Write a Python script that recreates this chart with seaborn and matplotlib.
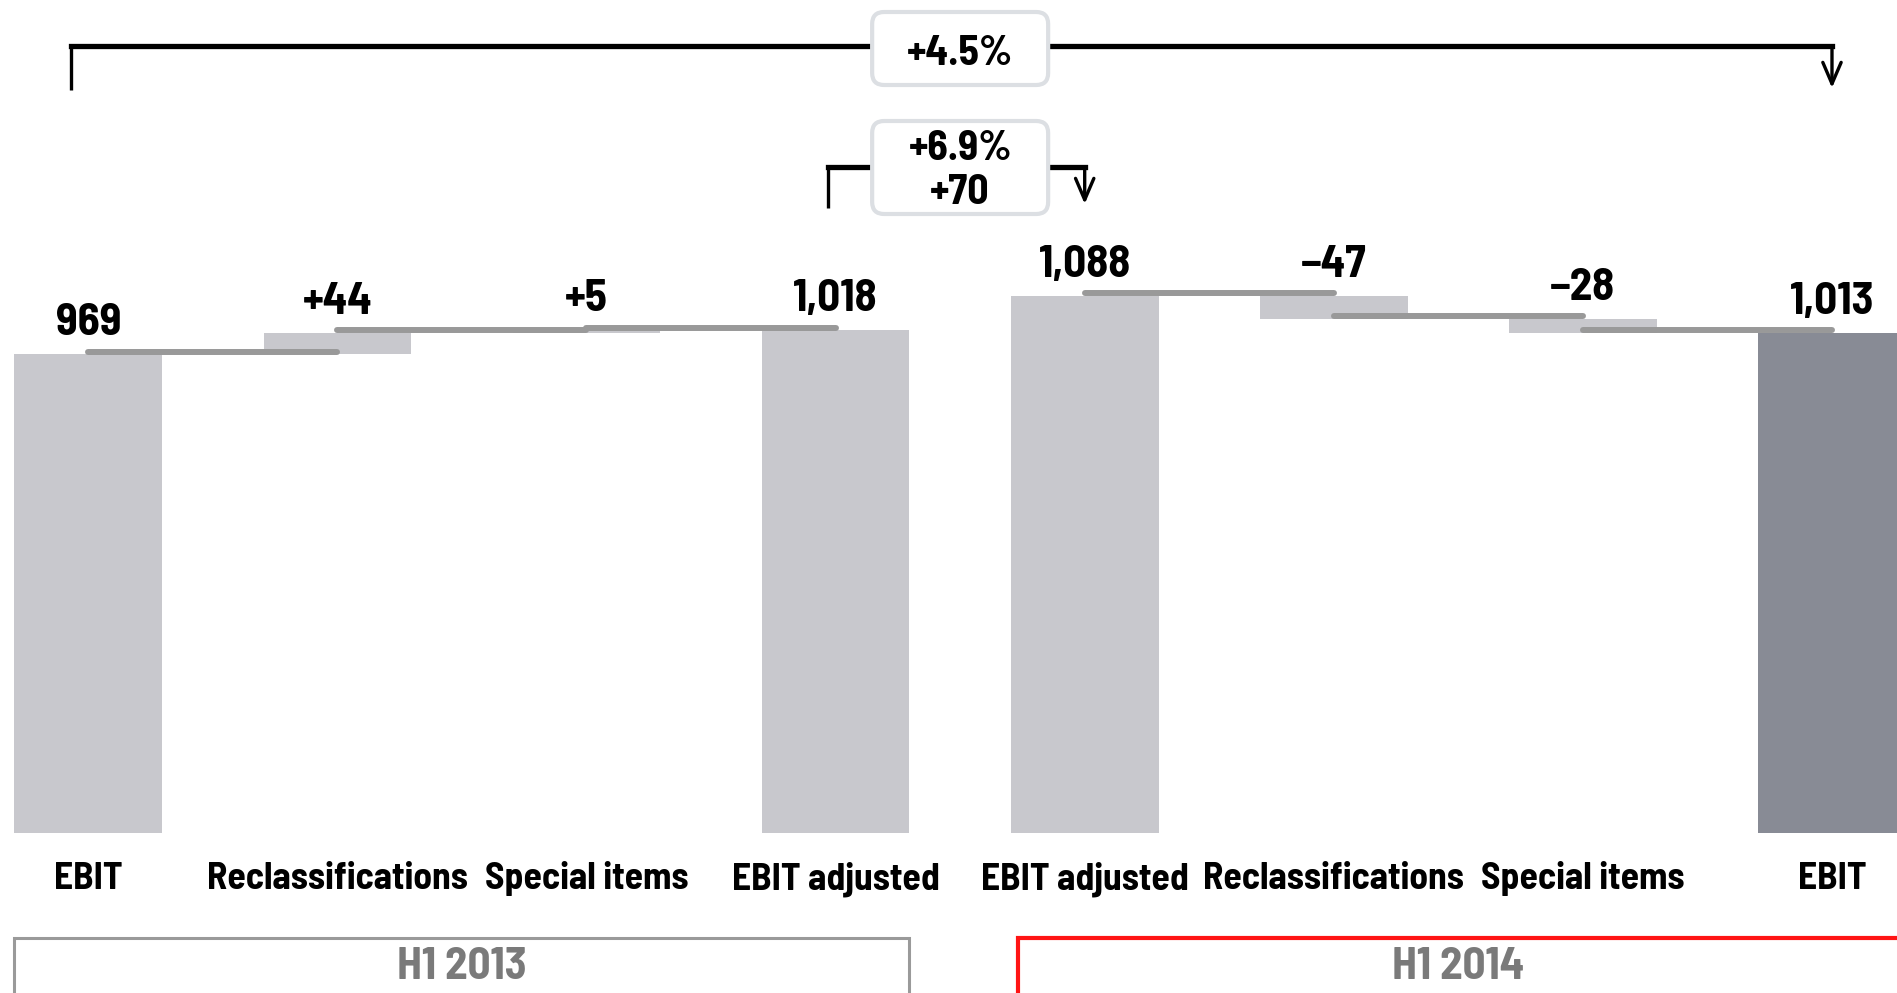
import os
import numpy as np
import pandas as pd
import matplotlib
matplotlib.use("Agg")
import matplotlib.pyplot as plt
import matplotlib.transforms as mtransforms
from matplotlib import font_manager as fm
from matplotlib.patches import FancyBboxPatch, Rectangle
import seaborn as sns

# ---- data -------------------------------------------------------------
categories = ["EBIT", "Reclassifications", "Special items", "EBIT adjusted",
              "EBIT adjusted", "Reclassifications", "Special items", "EBIT"]
values = [969, 44, 5, 1018, 1088, -47, -28, 1013]
kinds = ["total", "delta", "delta", "total", "total", "delta", "delta", "total"]
value_labels = ["969", "+44", "+5", "1,018", "1,088", "\u221247", "\u221228", "1,013"]
groups = [0, 0, 0, 0, 1, 1, 1, 1]
periods = ["H1 2013", "H1 2014"]
overall_change = "+4.5%"
adjusted_change = ["+6.9%", "+70"]

# ---- style ------------------------------------------------------------
sns.set_theme(style="white")
plt.rcParams["font.family"] = ["DejaVu Sans"]

LIGHT = "#c8c8cd"
DARK = "#888b95"
CONNECT = "#999999"

fig = plt.figure(figsize=(18.97, 9.93), dpi=100)
ax = fig.add_axes([0, 0, 1, 1])
renderer = fig.canvas.get_renderer()


def measure(prop, s):
    w, h, _ = renderer.get_text_width_height_descent(s, prop, ismath=False)
    return w, h


def pick_font():
    """Choose the bold sans face whose proportions suit tall, narrow labels."""
    families = {"noto sans", "dejavu sans", "liberation sans", "roboto",
                "open sans", "lato", "inter"}
    best, best_err = None, None
    seen = set()
    for f in fm.fontManager.ttflist:
        name = f.name.lower()
        fname = os.path.basename(f.fname).lower()
        ok_family = name in families or (
            ("condensed" in name or "narrow" in name)
            and not any(k in name for k in ("mono", "serif", "cjk", "math")))
        if not ok_family:
            continue
        wt = f.weight if isinstance(f.weight, int) else 700 if "bold" in str(f.weight) else 400
        if wt < 600 or f.style != "normal" or "italic" in fname or "oblique" in fname:
            continue
        if f.fname in seen:
            continue
        seen.add(f.fname)
        try:
            p = fm.FontProperties(fname=f.fname, size=30)
            _, cap = measure(p, "H")
            w, _ = measure(p, "Reclassifications")
        except Exception:
            continue
        if cap <= 0:
            continue
        width_at_cap = w * 26.6 / cap
        err = abs(width_at_cap - 258)
        if best_err is None or err < best_err:
            best, best_err = f.fname, err
    if best is None:
        return fm.FontProperties(family="DejaVu Sans", weight="bold")
    return fm.FontProperties(fname=best)


FONT = pick_font()


def sized(samples, total_width_px):
    """Font sized so that the given strings span the wanted total width."""
    p = FONT.copy()
    p.set_size(30)
    w = sum(measure(p, s)[0] for s in samples)
    p.set_size(30 * total_width_px / w)
    return p


VALUE_FONT = sized(["969", "+44", "1,018"], 220)
CAT_FONT = sized(["Reclassifications", "Special items", "EBIT adjusted"], 672)
PERIOD_FONT = sized(["H1 2013"], 130)
CHANGE_FONT = sized(["+4.5%", "+70"], 166)

# ---- waterfall geometry ----------------------------------------------
bottoms, heights, levels = [], [], []
running = 0
for v, k in zip(values, kinds):
    if k == "total":
        bottoms.append(0)
        heights.append(v)
        running = v
    else:
        bottoms.append(running if v > 0 else running + v)
        heights.append(abs(v))
        running += v
    levels.append(running)
tops = [b + h for b, h in zip(bottoms, heights)]

df = pd.DataFrame({"pos": np.arange(len(values)), "height": heights})

BAR_W = 0.593
sns.barplot(data=df, x="pos", y="height", bottom=np.array(bottoms),
            color=LIGHT, saturation=1, width=BAR_W, linewidth=0, ax=ax,
            zorder=2)
ax.patches[-1].set_facecolor(DARK)

ax.set_xlim(-0.3545, 7.261)
ax.set_ylim(-325, 1687)
ax.axis("off")

# connector lines between consecutive bars within each period
lift = mtransforms.offset_copy(ax.transData, fig=fig, x=0, y=2.5, units="dots")
for i in range(len(values) - 1):
    if groups[i] != groups[i + 1]:
        continue
    ax.plot([i, i + 1], [levels[i], levels[i]], color=CONNECT, lw=4.3,
            solid_capstyle="round", transform=lift, zorder=3)

# value labels above bars
for i, (t, lab) in enumerate(zip(tops, value_labels)):
    ax.annotate(lab, xy=(i, t), xytext=(0, 19), textcoords="offset pixels",
                ha="center", va="baseline", fontproperties=VALUE_FONT,
                color="black", zorder=5)

# category labels under bars
for i, cat in enumerate(categories):
    ax.annotate(cat, xy=(i, 0), xytext=(0, -56.5), textcoords="offset pixels",
                ha="center", va="baseline", fontproperties=CAT_FONT,
                color="black")

# period frames
blend = mtransforms.blended_transform_factory(ax.transData, ax.transAxes)
frame_colors = ["#9a9a9a", "#ff1414"]
frame_lw = [2.2, 3.0]
for g, name in enumerate(periods):
    idx = [i for i, gg in enumerate(groups) if gg == g]
    x0 = min(idx) - BAR_W / 2 + (0.03 if g else 0)
    x1 = max(idx) + BAR_W / 2
    ax.add_patch(Rectangle((x0, -0.2), x1 - x0, 0.2554, transform=blend,
                           fill=False, ec=frame_colors[g], lw=frame_lw[g],
                           clip_on=False, zorder=4))
    ax.text((min(idx) + max(idx)) / 2, 0.0141, name, transform=blend,
            ha="center", va="baseline", fontproperties=PERIOD_FONT,
            color="#7a7a7a")


# brackets with arrows
def bracket(xa, xb, y_top, y_left, y_right, lw_h=3.8, lw_v=2.4):
    ax.plot([xa, xa], [y_left, y_top], color="black", lw=lw_v,
            transform=blend, solid_capstyle="butt", clip_on=False, zorder=6)
    ax.plot([xa, xb], [y_top, y_top], color="black", lw=lw_h,
            transform=blend, solid_capstyle="projecting", clip_on=False, zorder=6)
    ax.annotate("", xy=(xb, y_right), xytext=(xb, y_top), xycoords=blend,
                textcoords=blend, zorder=6,
                arrowprops=dict(arrowstyle="->,head_length=0.7,head_width=0.3",
                                lw=lw_v, color="black", mutation_scale=22,
                                shrinkA=0, shrinkB=0))


first_total = 0
last_total = len(values) - 1
bracket(first_total - 0.07, last_total, 1 - 46 / 993, 1 - 90 / 993, 1 - 88 / 993)
bracket(3 - 0.03, 4, 1 - 167 / 993, 1 - 208 / 993, 1 - 204 / 993)


# rounded label boxes over the brackets
def label_box(xc, y0, y1, w_px):
    cx = ax.transData.transform((xc, 0))[0] / fig.dpi
    bottom_in = y0 * fig.get_figheight()
    top_in = y1 * fig.get_figheight()
    w_in = w_px / fig.dpi
    box = FancyBboxPatch((cx - w_in / 2, bottom_in), w_in, top_in - bottom_in,
                         boxstyle="round,pad=0,rounding_size=0.12",
                         transform=fig.dpi_scale_trans, fc="white",
                         ec="#dcdfe3", lw=3.0, zorder=7, clip_on=False)
    ax.add_patch(box)


label_box(3.5, 1 - 85 / 993, 1 - 12 / 993, 176)
label_box(3.5, 1 - 214 / 993, 1 - 121 / 993, 176)

# percentage / absolute change texts, placed by baseline
ax.text(3.5, 1 - 65 / 993, overall_change, transform=blend, ha="center",
        va="baseline", fontproperties=CHANGE_FONT, color="black", zorder=8)
ax.text(3.5, 1 - 160 / 993, adjusted_change[0], transform=blend, ha="center",
        va="baseline", fontproperties=CHANGE_FONT, color="black", zorder=8)
ax.text(3.5, 1 - 204 / 993, adjusted_change[1], transform=blend, ha="center",
        va="baseline", fontproperties=CHANGE_FONT, color="black", zorder=8)

fig.savefig("out.png", dpi=100)
